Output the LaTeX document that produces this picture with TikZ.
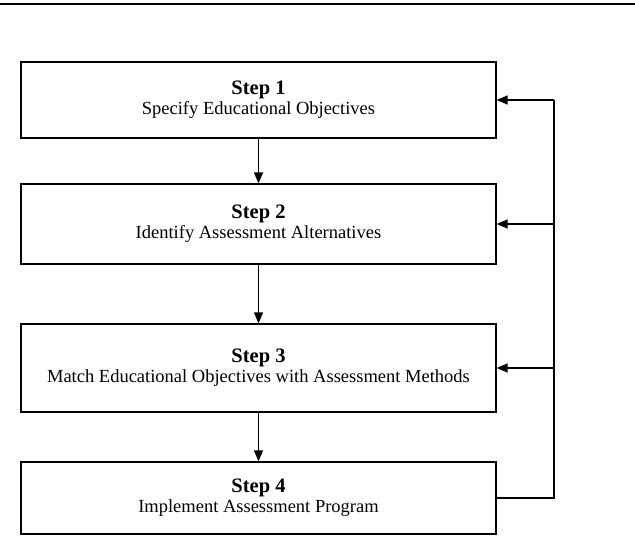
\documentclass[tikz,border=0pt]{standalone}
\usepackage{fontspec}
\setmainfont{Liberation Serif}
\usetikzlibrary{arrows.meta}

\tikzset{
  stepbox/.style={draw, line width=1.3pt, minimum width=475pt, align=center, inner sep=0pt},
  flow/.style={line width=1.3pt, -{Triangle[length=11pt,width=9pt]}},
}
\newcommand{\steptitle}[1]{{\fontsize{20.5}{24}\selectfont\bfseries #1}}
\newcommand{\steptext}[1]{{\fontsize{18.5}{22}\selectfont #1}}

\begin{document}
\begin{tikzpicture}[x=1pt, y=-1pt]
\useasboundingbox (0,0) rectangle (635,554);
\draw [line width=2pt] (0,4)--(635,4);
\node[stepbox, minimum height=76pt] (s1) at (258.5,100) {\steptitle{Step 1}\\[2pt]\steptext{Specify Educational Objectives}};
\node[stepbox, minimum height=80pt] (s2) at (258.5,224) {\steptitle{Step 2}\\[2pt]\steptext{Identify Assessment Alternatives}};
\node[stepbox, minimum height=88pt] (s3) at (258.5,368) {\steptitle{Step 3}\\[2pt]\steptext{Match Educational Objectives with Assessment Methods}};
\node[stepbox, minimum height=72pt] (s4) at (258.5,498) {\steptitle{Step 4}\\[2pt]\steptext{Implement Assessment Program}};
\draw [flow] (s1) -- (s2);
\draw [flow] (s2) -- (s3);
\draw [flow] (s3) -- (s4);
\coordinate (fb) at (554,100);
\draw [line width=1.3pt] (s4.east) -| (fb);
\foreach \n in {s1,s2,s3}
\draw [flow] (fb |- \n.east) -- (\n.east);
\end{tikzpicture}
\end{document}
